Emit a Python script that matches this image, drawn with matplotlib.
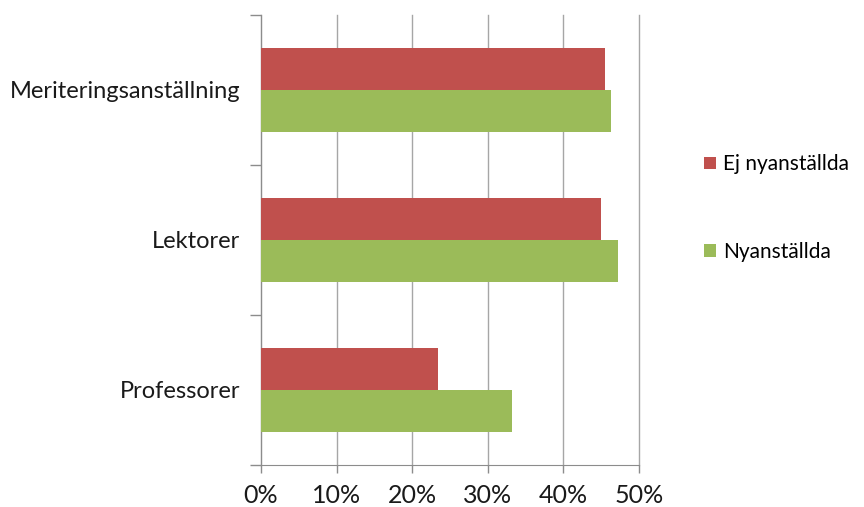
import numpy as np
import matplotlib.pyplot as plt
from matplotlib.ticker import PercentFormatter

# Share per category (%)
categories = ["Meriteringsanställning", "Lektorer", "Professorer"]
ej_nyanstallda = [45.5, 45.0, 23.4]
nyanstallda = [46.3, 47.2, 33.2]
series_names = ["Ej nyanställda", "Nyanställda"]
colors = ["#C0504D", "#9BBB59"]
x_ticks = [0, 10, 20, 30, 40, 50]

plt.rcParams["font.family"] = ["Lato", "DejaVu Sans"]
fs = 17

fig = plt.figure(figsize=(8.64, 5.07), dpi=100)
ax = fig.add_axes([261 / 864, 1 - 465 / 507, (638.7 - 261) / 864, (465 - 15) / 507])

pos = np.arange(len(categories))[::-1]
h = 0.28
ax.barh(pos + h / 2, ej_nyanstallda, height=h, color=colors[0], label=series_names[0], zorder=3)
ax.barh(pos - h / 2, nyanstallda, height=h, color=colors[1], label=series_names[1], zorder=3)

ax.set_xlim(0, 50)
ax.set_ylim(-0.5, len(categories) - 0.5)
ax.set_xticks(x_ticks)
ax.xaxis.set_major_formatter(PercentFormatter(decimals=0))
ax.grid(axis="x", color="#A6A6A6", linewidth=1, zorder=0)
for gl in ax.get_xgridlines():
    gl.set_clip_on(False)

ax.set_yticks(pos)
ax.set_yticklabels(categories)
ax.set_yticks(np.arange(-0.5, len(categories)), minor=True)
ax.tick_params(axis="y", which="major", length=0, pad=15, labelsize=fs, labelcolor="#1a1a1a")
ax.tick_params(axis="y", which="minor", length=8, color="#8C8C8C", width=1)
ax.tick_params(axis="x", length=6, color="#8C8C8C", width=1, pad=8, labelsize=18, labelcolor="#1a1a1a")

for s in ["top", "right"]:
    ax.spines[s].set_visible(False)
for s in ["left", "bottom"]:
    ax.spines[s].set_color("#8C8C8C")

fig.legend(loc="upper left", bbox_to_anchor=(694 / 864, 1 - 144 / 507), frameon=False,
           fontsize=15, handlelength=0.55, handleheight=0.55, handletextpad=0.35,
           labelspacing=3.25, borderpad=0)

fig.savefig("out.png", dpi=100)
